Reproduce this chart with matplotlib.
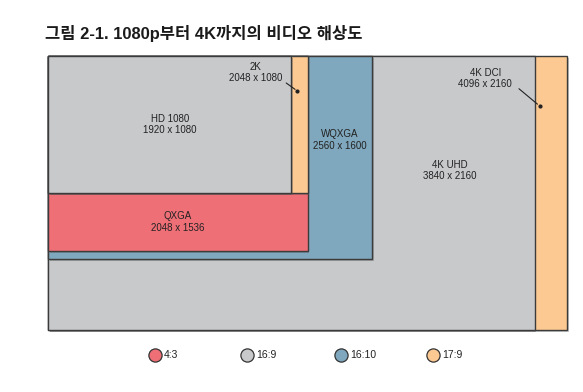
import matplotlib
matplotlib.use('Agg')
import matplotlib.pyplot as plt
import matplotlib.patches as mpatches
import matplotlib.patheffects as pe

# Resolutions (width, height), drawn back to front
names = ['4K DCI', '4K UHD', 'WQXGA', 'QXGA', '2K', 'HD 1080']
widths = [4096, 3840, 2560, 2048, 2048, 1920]
heights = [2160, 2160, 1600, 1536, 1080, 1080]
ratios = ['17:9', '16:9', '16:10', '4:3', '17:9', '16:9']

legend_ratios = ['4:3', '16:9', '16:10', '17:9']
colors = {'4:3': '#ef6f77', '16:9': '#c8c9cb', '16:10': '#7fa7bd', '17:9': '#fdc992'}

# label anchor positions (resolution units, origin top-left)
label_pos = {
    'HD 1080': (960, 540),
    '2K': (1640, 130),
    'QXGA': (1024, 1308),
    'WQXGA': (2304, 662),
    '4K UHD': (3170, 903),
    '4K DCI': (3450, 177),
}
arrows = {
    '2K': ((1862, 200), (1968, 276)),
    '4K DCI': ((3700, 244), (3880, 394)),
}

W, H = 583, 392
fig = plt.figure(figsize=(W / 100, H / 100), dpi=100)
fig.patch.set_facecolor('white')

ax = fig.add_axes([48 / W, 1 - 330 / H, 519 / W, 274 / H])
ax.set_xlim(0, 4096)
ax.set_ylim(2160, 0)
ax.axis('off')

shadow = [pe.SimplePatchShadow(offset=(1.2, -1.2), shadow_rgbFace='#555555', alpha=0.35), pe.Normal()]
edge = '#3b3b3b'

for i, (name, w, h, r) in enumerate(zip(names, widths, heights, ratios)):
    rect = mpatches.Rectangle((0, 0), w, h, facecolor=colors[r], edgecolor=edge,
                              linewidth=1.0, zorder=i + 1, clip_on=False)
    rect.set_path_effects(shadow)
    ax.add_patch(rect)

font = 'Liberation Sans'
for i, (name, w, h) in enumerate(zip(names, widths, heights)):
    x, y = label_pos[name]
    ax.text(x, y, f'{name}\n{w} x {h}', ha='center', va='center', fontsize=7.0,
            family=font, color='#222222', linespacing=1.2, zorder=20)

for name, (start, end) in arrows.items():
    ax.annotate('', xy=end, xytext=start,
                arrowprops=dict(arrowstyle='-', color='#222222', lw=0.8), zorder=21)
    ax.plot(*end, 'o', color='#222222', markersize=2, zorder=22)

fig.text(45 / W, 1 - 33 / H, '그림 2-1. 1080p부터 4K까지의 비디오 해상도',
         family=['Liberation Sans', 'Noto Sans CJK KR'], fontweight='bold', fontsize=11.9,
         ha='left', va='center', color='#1a1a1a')

# legend
leg_ax = fig.add_axes([0, 0, 1, 1], facecolor='none')
leg_ax.set_xlim(0, W)
leg_ax.set_ylim(H, 0)
leg_ax.axis('off')
leg_x = [155, 247, 341, 433]
for lx, r in zip(leg_x, legend_ratios):
    leg_ax.plot(lx, 355, 'o', markersize=9.5, markerfacecolor=colors[r],
                markeredgecolor='#333333', markeredgewidth=0.9)
    leg_ax.text(lx + 9, 355, r, ha='left', va='center', fontsize=7.5, family=font, color='#222222')

fig.savefig('out.png', dpi=100)
